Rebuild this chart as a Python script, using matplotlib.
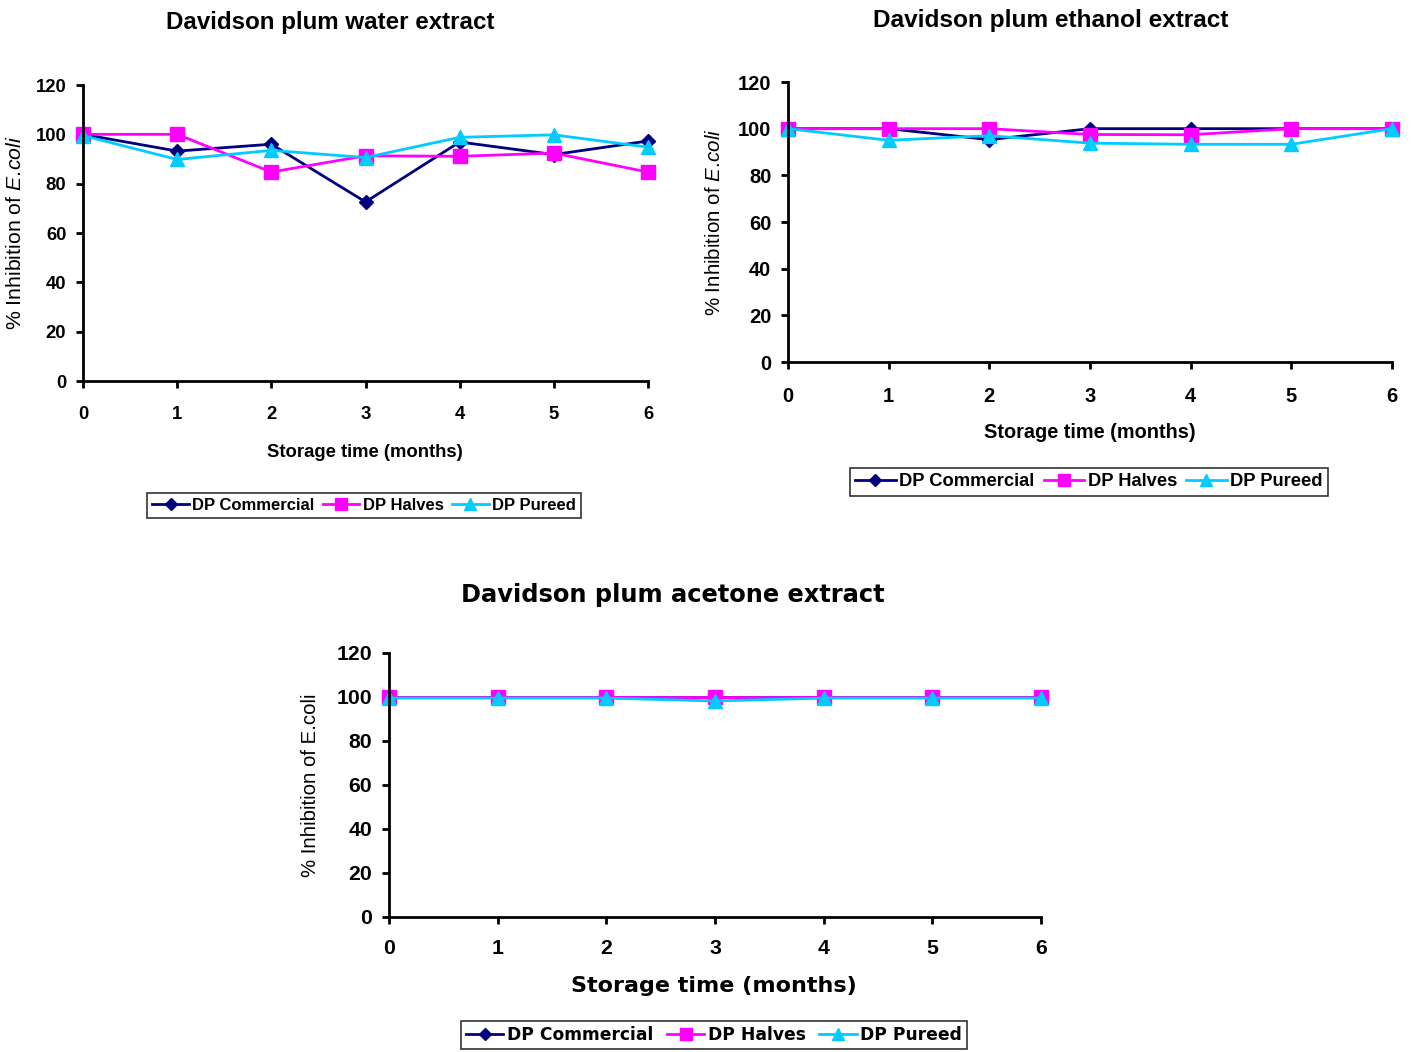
import matplotlib
matplotlib.use("Agg")
import matplotlib.pyplot as plt
from matplotlib.lines import Line2D

plt.rcParams["font.family"] = ["Liberation Sans", "DejaVu Sans"]
plt.rcParams["mathtext.fontset"] = "custom"
plt.rcParams["mathtext.rm"] = "Liberation Sans"
plt.rcParams["mathtext.it"] = "Liberation Sans:italic"

MONTHS = [0, 1, 2, 3, 4, 5, 6]
SERIES = ["DP Commercial", "DP Halves", "DP Pureed"]

# water extract
water_commercial = [100, 93.2, 96, 72.6, 96.9, 91.8, 97.3]
water_halves = [100, 100, 84.7, 91.3, 91.1, 92.4, 84.7]
water_pureed = [99.5, 89.8, 93.5, 90.6, 98.8, 99.8, 94.8]

# ethanol extract
ethanol_commercial = [100, 100, 95.3, 100, 100, 100, 100]
ethanol_halves = [100, 100, 100, 97.5, 97.4, 100, 100]
ethanol_pureed = [100, 95, 97, 93.8, 93.3, 93.3, 100]

# acetone extract
acetone_commercial = [100, 100, 100, 100, 100, 100, 100]
acetone_halves = [100, 100, 100, 100, 100, 100, 100]
acetone_pureed = [99.5, 99.5, 99.5, 98.2, 99.5, 99.5, 99.5]

STYLES = [
    dict(color="#000080", marker="D", markersize=7.5),
    dict(color="#FF00FF", marker="s", markersize=9.5),
    dict(color="#00CCFF", marker="^", markersize=10.5),
]

YLABEL_IT = r"% Inhibition of $\it{E.\!coli}$"

W, H = 1413, 1052
fig = plt.figure(figsize=(W / 100, H / 100), dpi=100)


def fx(px):
    return px / W


def fy(py):
    return 1 - py / H


def make_axes(left, right, top, bottom, data, tick_size, xpad):
    ax = fig.add_axes([fx(left), fy(bottom), fx(right - left), (bottom - top) / H])
    for values, style in zip(data, STYLES):
        ax.plot(MONTHS, values, linewidth=2, clip_on=False, **style)
    ax.set_xlim(0, 6)
    ax.set_ylim(0, 120)
    ax.set_xticks(MONTHS)
    ax.set_yticks(range(0, 121, 20))
    for side in ["top", "right"]:
        ax.spines[side].set_visible(False)
    for side in ["left", "bottom"]:
        ax.spines[side].set_linewidth(2)
    ax.tick_params(axis="both", direction="out", length=5, width=2,
                   labelsize=tick_size)
    ax.tick_params(axis="x", pad=xpad)
    ax.tick_params(axis="y", pad=7)
    for lab in ax.get_xticklabels() + ax.get_yticklabels():
        lab.set_fontweight("bold")
    return ax


def legend(cx, cy, font, size, spacing=0.5):
    handles = [Line2D([], [], linewidth=2, **s) for s in STYLES]
    for h, s in zip(handles, STYLES):
        h.set_markersize(s["markersize"] * 0.85)
    leg = fig.legend(
        handles, SERIES, loc="center", bbox_to_anchor=(fx(cx), fy(cy)),
        ncol=3, frameon=True, fancybox=False, edgecolor="black",
        prop=dict(family=font, weight="bold", size=size),
        handlelength=2.2, handletextpad=0.2, columnspacing=spacing,
        borderpad=0.3, borderaxespad=0,
    )
    leg.get_frame().set_linewidth(1.2)


# water
make_axes(83, 648, 85, 381, [water_commercial, water_halves, water_pureed], 13.3, 13)
fig.text(fx(330), fy(22), "Davidson plum water extract", ha="center", va="center",
         fontsize=17.4, fontweight="bold")
fig.text(fx(365), fy(453), "Storage time (months)", ha="center", va="center",
         fontsize=13.3, fontweight="bold")
fig.text(fx(16), fy(233), YLABEL_IT, ha="center", va="center",
         rotation=90, fontsize=15.3)
legend(364, 505, "Liberation Sans", 12)

# ethanol
make_axes(788, 1392, 82, 362, [ethanol_commercial, ethanol_halves, ethanol_pureed], 14.5, 13)
fig.text(fx(1051), fy(21), "Davidson plum ethanol extract", ha="center", va="center",
         fontsize=17.6, fontweight="bold")
fig.text(fx(1090), fy(432), "Storage time (months)", ha="center", va="center",
         fontsize=14.3, fontweight="bold")
fig.text(fx(715), fy(222), YLABEL_IT, ha="center", va="center",
         rotation=90, fontsize=14.8)
legend(1089, 482, "Liberation Sans", 13.2)

# acetone
make_axes(389, 1041, 653, 917, [acetone_commercial, acetone_halves, acetone_pureed], 15.3, 11)
fig.text(fx(673), fy(595), "Davidson plum acetone extract", ha="center", va="center",
         fontsize=17.4, fontweight="bold", family="DejaVu Sans")
fig.text(fx(714), fy(986), "Storage time (months)", ha="center", va="center",
         fontsize=16, fontweight="bold", family="DejaVu Sans")
fig.text(fx(311), fy(785), "% Inhibition of E.coli", ha="center", va="center",
         rotation=90, fontsize=14.7)
legend(714, 1035, "DejaVu Sans", 12.3, spacing=0.8)

fig.savefig("out.png", dpi=100)
